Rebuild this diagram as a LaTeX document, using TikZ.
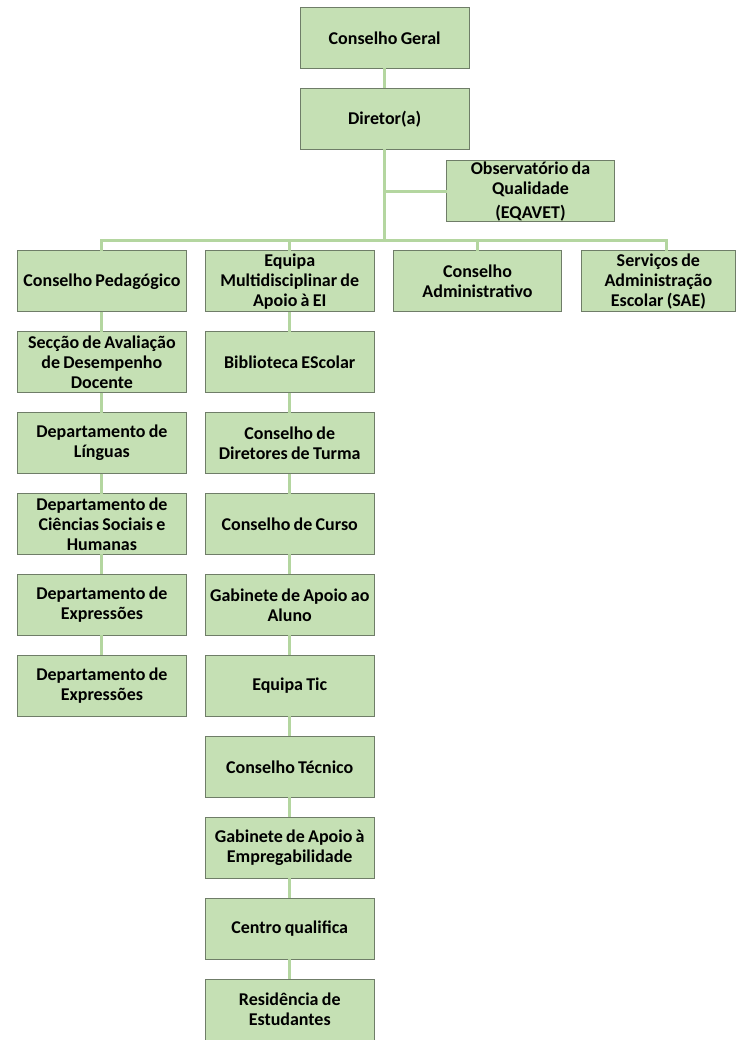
\documentclass[tikz,border=0pt]{standalone}
\usepackage{fontspec}
\setmainfont{Carlito}[WordSpace=0.8]
\usetikzlibrary{positioning}
\definecolor{boxgreen}{HTML}{C5E0B4}
\definecolor{boxedge}{HTML}{6F7D68}
\definecolor{linkgreen}{HTML}{B4D6A0}

\begin{document}
\begin{tikzpicture}[node distance=20pt, every node/.style={font=\fontsize{18}{20}\selectfont\bfseries},
      unit/.style={draw=boxedge,line width=1pt,fill=boxgreen,align=center,minimum height=61pt,minimum width=169pt,inner sep=1pt,outer sep=0pt},
      link/.style={linkgreen,line width=3pt}]
    \useasboundingbox (0pt,0pt) rectangle (738pt,-1041pt);
    \node[unit] at (385pt,-38pt) (cg) {Conselho Geral};
    \node[unit,below=of cg] (dir) {Diretor(a)};
    \node[unit,minimum width=168pt] at (531pt,-191.5pt) (obs) {Observatório da\\Qualidade\\[4pt](EQAVET)};
    \coordinate (bus) at (385pt,-241pt);
    \node[unit] at (102pt,-281.5pt) (ped) {Conselho Pedagógico};
    \node[unit,right=19pt of ped] (equ) {Equipa\\Multidisciplinar de\\Apoio à EI};
    \node[unit,right=19pt of equ] (adm) {Conselho\\Administrativo};
    \node[unit,right=19.5pt of adm,minimum width=154pt] (sae) {Serviços de\\Administração\\Escolar (SAE)};
    % left column
    \node[unit,below=of ped] (sad) {Secção de Avaliação\\de Desempenho\\Docente};
    \node[unit,below=of sad] (lin) {Departamento de\\Línguas};
    \node[unit,below=of lin] (cie) {Departamento de\\Ciências Sociais e\\Humanas};
    \node[unit,below=of cie] (exa) {Departamento de\\Expressões};
    \node[unit,below=of exa] (exb) {Departamento de\\Expressões};
    % middle column
    \node[unit,below=of equ] (bib) {Biblioteca EScolar};
    \node[unit,below=of bib] (cdt) {Conselho de\\Diretores de Turma};
    \node[unit,below=of cdt] (cur) {Conselho de Curso};
    \node[unit,below=of cur] (gaa) {Gabinete de Apoio ao\\Aluno};
    \node[unit,below=of gaa] (tic) {Equipa Tic};
    \node[unit,below=of tic] (tec) {Conselho Técnico};
    \node[unit,below=of tec] (gae) {Gabinete de Apoio à\\Empregabilidade};
    \node[unit,below=of gae] (cqa) {Centro qualifica};
    \node[unit,below=of cqa] (res) {Residência de\\Estudantes};
    % links
    \draw[link] (cg) -- (dir);
    \draw[link] (dir) -- (bus);
    \draw[link] (dir.south |- obs.west) -- (obs.west);
    \draw[link] (ped.north) -- (ped.north |- bus) -- ([xshift=8pt]sae.north |- bus) -- ([xshift=8pt]sae.north);
    \draw[link] (equ.north) -- (equ.north |- bus);
    \draw[link] (adm.north) -- (adm.north |- bus);
    \draw[link] (ped) -- (sad);
    \draw[link] (sad) -- (lin);
    \draw[link] (lin) -- (cie);
    \draw[link] (cie) -- (exa);
    \draw[link] (exa) -- (exb);
    \draw[link] (equ) -- (bib);
    \draw[link] (bib) -- (cdt);
    \draw[link] (cdt) -- (cur);
    \draw[link] (cur) -- (gaa);
    \draw[link] (gaa) -- (tic);
    \draw[link] (tic) -- (tec);
    \draw[link] (tec) -- (gae);
    \draw[link] (gae) -- (cqa);
    \draw[link] (cqa) -- (res);
  \end{tikzpicture}
\end{document}
